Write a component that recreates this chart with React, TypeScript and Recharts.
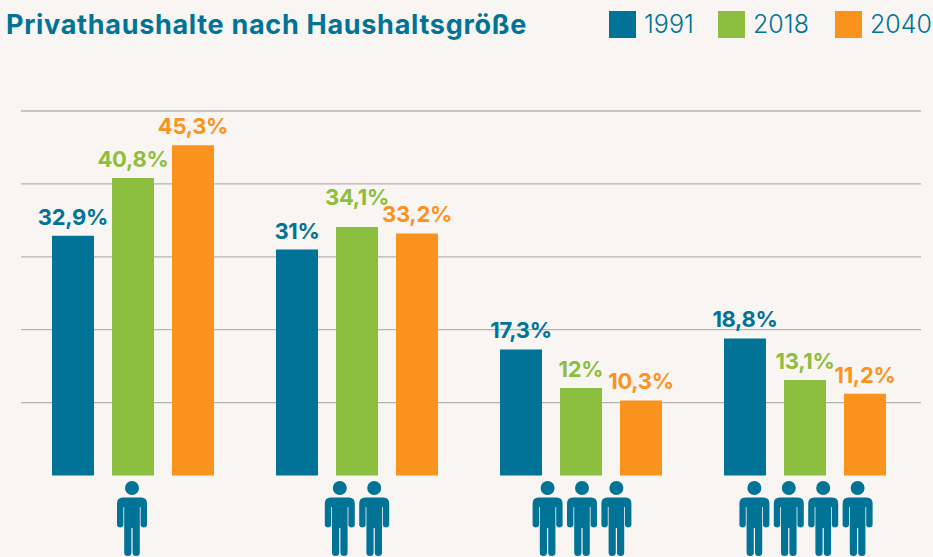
import React from "react";
import { BarChart, Bar, XAxis, YAxis, CartesianGrid, LabelList, Legend } from "recharts";

const TEAL = "#007396";
const GREEN = "#8cbe3f";
const ORANGE = "#f9931d";
const FONT = "Inter, 'Open Sans', sans-serif";

const title = "Privathaushalte nach Haushaltsgröße";
const householdSizes = [1, 2, 3, 4];
const values1991 = [32.9, 31, 17.3, 18.8];
const values2018 = [40.8, 34.1, 12, 13.1];
const values2040 = [45.3, 33.2, 10.3, 11.2];
const gridValues = [10, 20, 30, 40, 50];
const raisedLabel = 34.1;

const data = householdSizes.map((size, i) => ({
  size,
  y1991: values1991[i],
  y2018: values2018[i],
  y2040: values2040[i],
}));

const fmt = (v: any) => String(v).replace(".", ",") + "%";

const PERSON_PATH =
  "M-9 9.5H9Q15 9.5 15 15.5V37.5A3.5 3.5 0 0 1 8.6 37.5V19H7.8V64.5A3.6 3.6 0 0 1 .6 64.5V40H-.6V64.5A3.6 3.6 0 0 1 -7.8 64.5V19H-8.6V37.5A3.5 3.5 0 0 1 -15 37.5V15.5Q-15 9.5 -9 9.5Z";

function Person({ cx, top }: { cx: number; top: number }) {
  return (
    <g transform={`translate(${cx},${top})`} fill={TEAL}>
      <circle cx={0} cy={0} r={7} />
      <path d={PERSON_PATH} />
    </g>
  );
}

function PeopleTick({ x, y, payload }: any) {
  const n = Number(payload.value);
  const step = 34.4;
  const start = x - ((n - 1) * step) / 2;
  return (
    <g>
      {Array.from({ length: n }, (_, i) => (
        <Person key={i} cx={start + i * step + (n === 1 ? -1 : n === 2 ? 0 : 1)} top={y + 12.5} />
      ))}
    </g>
  );
}

function LegendContent({ payload }: any) {
  const lefts = [609, 718, 835];
  return (
    <div style={{ position: "relative", width: 933, height: 40 }}>
      {(payload || []).map((p: any, i: number) => (
        <div key={p.value} style={{ position: "absolute", left: lefts[i], top: 0, display: "flex", alignItems: "center" }}>
          <div style={{ width: 27, height: 27, background: p.color }} />
          <span style={{ marginLeft: 8, color: TEAL, fontFamily: FONT, fontWeight: 300, fontSize: 25, lineHeight: "27px" }}>{p.value}</span>
        </div>
      ))}
    </div>
  );
}

function makeValueLabel(color: string) {
  return function ValueLabel({ x, y, width, value }: any) {
    const lift = Number(value) === raisedLabel ? 22 : 11;
    return (
      <text
        x={x + width / 2}
        y={y - lift}
        textAnchor="middle"
        fill={color}
        style={{ fontFamily: FONT, fontWeight: 700, fontSize: 22, letterSpacing: -0.3 }}
      >
        {fmt(value)}
      </text>
    );
  };
}

function series(key: string, name: string, color: string) {
  const ValueLabel = makeValueLabel(color);
  return (
    <Bar dataKey={key} name={name} fill={color} barSize={42} isAnimationActive={false}>
      <LabelList dataKey={key} content={<ValueLabel />} />
    </Bar>
  );
}

export default function App() {
  return (
    <div style={{ position: "absolute", left: 0, top: 0, width: 933, height: 557, background: "#f9f5f2", overflow: "hidden" }}>
      <div style={{ position: "absolute", left: 6, top: 9, color: TEAL, fontFamily: FONT, fontWeight: 700, fontSize: 27, letterSpacing: 0.7, lineHeight: "32px", whiteSpace: "nowrap" }}>
        {title}
      </div>
      <BarChart
        width={933}
        height={557}
        data={data}
        barGap={18}
        margin={{ top: 71, right: 12, bottom: 0, left: 21 }}
      >
        <CartesianGrid horizontal vertical={false} stroke="#b5b3b0" strokeWidth={1.3} horizontalValues={gridValues} />
        <XAxis
          dataKey="size"
          height={81.5}
          axisLine={false}
          tickLine={false}
          tickSize={0}
          tickMargin={0}
          interval={0}
          padding={{ left: 0, right: 4 }}
          tick={<PeopleTick />}
        />
        <YAxis hide domain={[0, 50]} ticks={gridValues} />
        <Legend
          verticalAlign="top"
          align="left"
          content={<LegendContent />}
          wrapperStyle={{ position: "absolute", left: 0, top: 11, width: 933 }}
        />
        {series("y1991", "1991", TEAL)}
        {series("y2018", "2018", GREEN)}
        {series("y2040", "2040", ORANGE)}
      </BarChart>
    </div>
  );
}
